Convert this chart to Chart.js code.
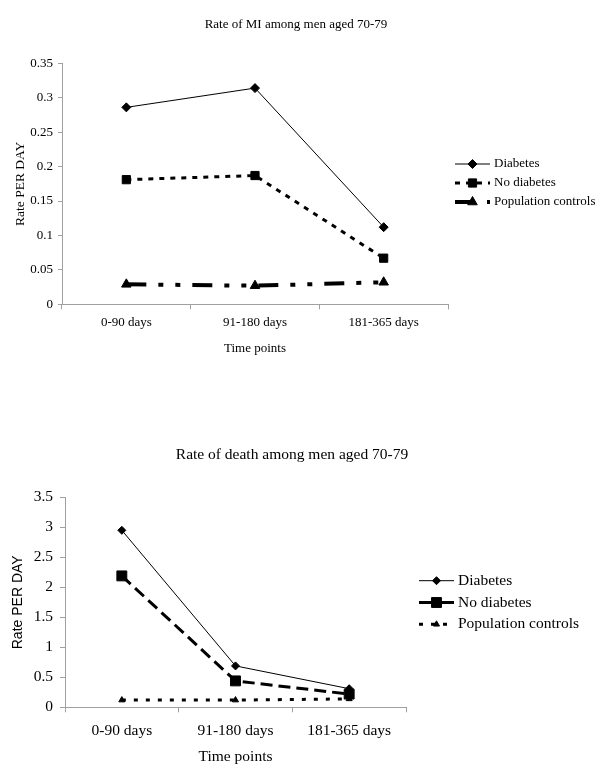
<!DOCTYPE html>
<html>
<head>
<meta charset="utf-8">
<script src="https://cdn.jsdelivr.net/npm/chart.js@4/dist/chart.umd.min.js"></script>
<style>
  body { margin: 0; background: #fff; }
  #top { position: absolute; left: 0; top: 0; }
  #bottom { position: absolute; left: 0; top: 360px; }
</style>
</head>
<body>
<canvas id="top" width="600" height="360"></canvas>
<canvas id="bottom" width="600" height="418"></canvas>
<script>
const timePoints = ['0-90 days', '91-180 days', '181-365 days'];

// Rate of MI
const miDiabetes = [0.286, 0.314, 0.112];
const miNoDiabetes = [0.181, 0.187, 0.067];
const miControls = [0.029, 0.027, 0.032];
const miTicks = ['0', '0.05', '0.1', '0.15', '0.2', '0.25', '0.3', '0.35'];

// Rate of death
const deathDiabetes = [2.95, 0.69, 0.31];
const deathNoDiabetes = [2.19, 0.44, 0.22];
const deathControls = [0.12, 0.12, 0.14];
const deathTicks = ['0', '0.5', '1', '1.5', '2', '2.5', '3', '3.5'];

const serif = "'Liberation Serif', 'Times New Roman', serif";
const sans = "'Liberation Sans', Arial, sans-serif";

// legend to the right: line + marker + label, like the original
const sideLegend = {
    id: 'sideLegend',
    afterDraw(chart, args, opts) {
        const ctx = chart.ctx;
        chart.data.datasets.forEach((ds, i) => {
            const y = opts.y + i * opts.gap;
            ctx.save();
            ctx.strokeStyle = ds.borderColor;
            ctx.lineWidth = ds.borderWidth;
            ctx.setLineDash(ds.legendDash || ds.borderDash || []);
            ctx.beginPath();
            ctx.moveTo(opts.x1, y);
            ctx.lineTo(opts.x2, y);
            ctx.stroke();
            ctx.setLineDash([]);
            ctx.fillStyle = ds.pointBackgroundColor;
            ctx.strokeStyle = ds.pointBorderColor;
            ctx.lineWidth = 1;
            Chart.helpers.drawPoint(ctx, {
                pointStyle: ds.pointStyle, radius: ds.pointRadius, borderWidth: 1, rotation: 0
            }, (opts.x1 + opts.x2) / 2, y);
            ctx.fillStyle = '#000';
            ctx.font = opts.font;
            ctx.textAlign = 'left';
            ctx.textBaseline = 'middle';
            ctx.fillText(ds.label, opts.textX, y);
            ctx.restore();
        });
    }
};

function series(label, data, width, dash, style, radius) {
    return {
        label: label,
        data: data,
        borderColor: '#000',
        borderWidth: width,
        borderDash: dash,
        pointStyle: style,
        pointRadius: radius,
        pointHoverRadius: radius,
        pointBackgroundColor: '#000',
        pointBorderColor: '#000',
        pointBorderWidth: 1,
        tension: 0,
        fill: false
    };
}

// empty axis on the right, only keeps room for the legend
function spacer(width) {
    return {
        position: 'right',
        grid: { display: false },
        border: { display: false },
        ticks: { display: false },
        afterFit: (scale) => { scale.width = width; }
    };
}

const miChart = new Chart(document.getElementById('top'), {
    type: 'line',
    data: {
        labels: timePoints,
        datasets: [
            series('Diabetes', miDiabetes, 1, [], 'rectRot', 4.5),
            series('No diabetes', miNoDiabetes, 3, [5, 6], 'rect', 5.8),
            series('Population controls', miControls, 4, [20, 12, 5, 12, 5, 12], 'triangle', 5.5)
        ]
    },
    options: {
        responsive: false,
        animation: false,
        layout: { padding: { left: 0, right: 8, top: 0, bottom: 0 } },
        scales: {
            x: {
                offset: true,
                grid: { offset: true, drawOnChartArea: false, drawTicks: true, tickLength: 5, color: '#a0a0a0' },
                border: { color: '#a0a0a0' },
                ticks: { color: '#000', padding: 5, font: { family: serif, size: 13 } },
                title: { display: true, text: 'Time points', color: '#000', padding: { top: 0, bottom: 4 }, font: { family: serif, size: 13 } },
                afterFit: (scale) => { scale.height = 55.7; }
            },
            y: {
                min: 0,
                max: 0.35,
                grid: { drawOnChartArea: false, drawTicks: true, tickLength: 4, color: '#a0a0a0' },
                border: { color: '#a0a0a0' },
                ticks: {
                    stepSize: 0.05, color: '#000', padding: 5, font: { family: serif, size: 13 },
                    callback: (value, index) => miTicks[index]
                },
                title: { display: true, text: 'Rate PER DAY', color: '#000', padding: { top: 12.5, bottom: 0 }, font: { family: serif, size: 13.5 } },
                afterFit: (scale) => { scale.width = 62; }
            },
            room: spacer(144)
        },
        plugins: {
            legend: { display: false },
            tooltip: { enabled: false },
            title: {
                display: true,
                text: 'Rate of MI among men aged 70-79',
                color: '#000',
                padding: { top: 17.2, bottom: 30.5 },
                font: { family: serif, size: 13, weight: 'normal' }
            },
            sideLegend: { x1: 455, x2: 490, textX: 494, y: 164, gap: 19, font: '13px ' + serif }
        }
    },
    plugins: [sideLegend]
});

const deathChart = new Chart(document.getElementById('bottom'), {
    type: 'line',
    data: {
        labels: timePoints,
        datasets: [
            series('Diabetes', deathDiabetes, 1, [], 'rectRot', 4),
            Object.assign(series('No diabetes', deathNoDiabetes, 3, [12, 6], 'rect', 7), { legendDash: [] }),
            series('Population controls', deathControls, 3, [4, 8], 'triangle', 3.5)
        ]
    },
    options: {
        responsive: false,
        animation: false,
        layout: { padding: { left: 0, right: 16, top: 0, bottom: 0 } },
        scales: {
            x: {
                offset: true,
                grid: { offset: true, drawOnChartArea: false, drawTicks: true, tickLength: 5, color: '#a0a0a0' },
                border: { color: '#a0a0a0' },
                ticks: { color: '#000', padding: 9, font: { family: serif, size: 15.5 } },
                title: { display: true, text: 'Time points', color: '#000', padding: { top: 0, bottom: 11.7 }, font: { family: serif, size: 15.5 } },
                afterFit: (scale) => { scale.height = 70.7; }
            },
            y: {
                min: 0,
                max: 3.5,
                grid: { drawOnChartArea: false, drawTicks: true, tickLength: 5, color: '#a0a0a0' },
                border: { color: '#a0a0a0' },
                ticks: {
                    stepSize: 0.5, color: '#000', padding: 7, font: { family: serif, size: 15.5 },
                    callback: (value, index) => deathTicks[index]
                },
                title: { display: true, text: 'Rate PER DAY', color: '#000', padding: { top: 9.6, bottom: 0 }, font: { family: sans, size: 14 } },
                afterFit: (scale) => { scale.width = 65; }
            },
            room: spacer(178)
        },
        plugins: {
            legend: { display: false },
            tooltip: { enabled: false },
            title: {
                display: true,
                text: 'Rate of death among men aged 70-79',
                color: '#000',
                padding: { top: 85.7, bottom: 33 },
                font: { family: serif, size: 15.5, weight: 'normal' }
            },
            sideLegend: { x1: 419, x2: 454, textX: 458, y: 220.7, gap: 21.8, font: '15.5px ' + serif }
        }
    },
    plugins: [sideLegend]
});
</script>
</body>
</html>
